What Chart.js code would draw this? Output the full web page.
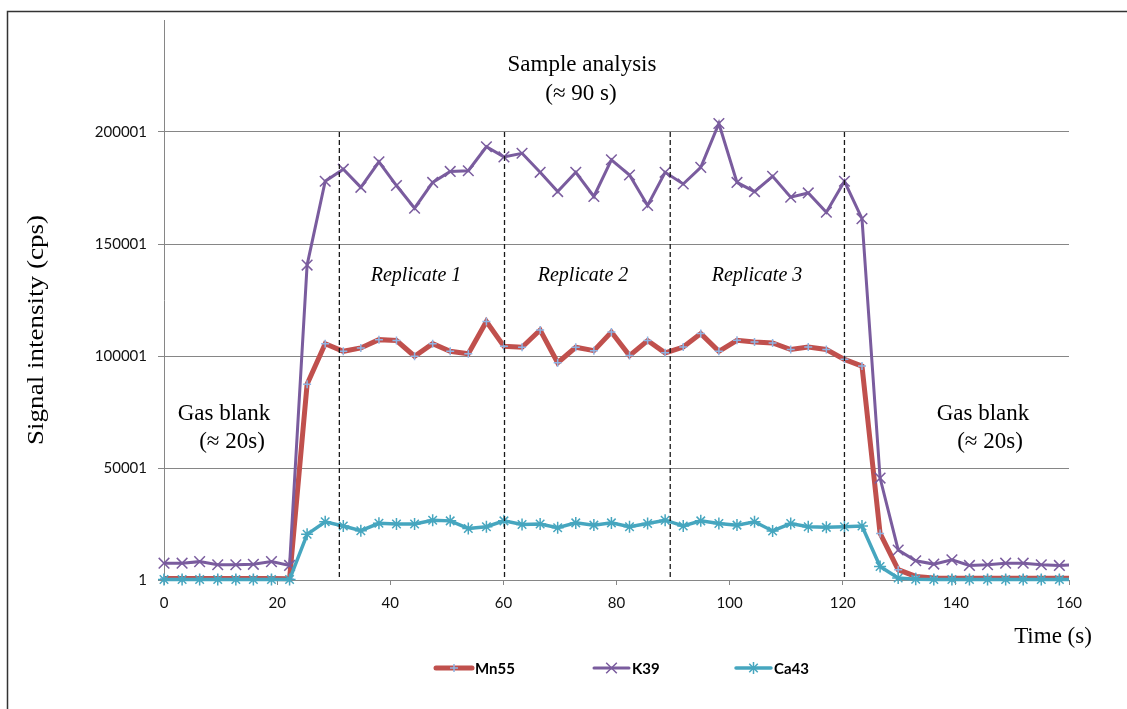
<!DOCTYPE html>
<html>
<head>
<meta charset="utf-8">
<script src="https://cdn.jsdelivr.net/npm/chart.js@4.4.1/dist/chart.umd.min.js"></script>
<style>
    html, body { margin: 0; padding: 0; background: #fff; }
    #wrap { width: 1127px; height: 709px; }
</style>
</head>
<body>
<div id="wrap"><canvas id="signal" width="1127" height="709"></canvas></div>
<script>
// ---------------- DATA ----------------
const times = [0, 3.2, 6.3, 9.5, 12.7, 15.8, 19.0, 22.2, 25.3, 28.5, 31.7, 34.8, 38.0, 41.1, 44.3, 47.5,
    50.6, 53.8, 57.0, 60.1, 63.3, 66.5, 69.6, 72.8, 76.0, 79.1, 82.3, 85.5, 88.6, 91.8, 94.9, 98.1,
    101.3, 104.4, 107.6, 110.8, 113.9, 117.1, 120.3, 123.4, 126.6, 129.8, 132.9, 136.1, 139.3, 142.4,
    145.6, 148.8, 151.9, 155.1, 158.3, 161.4];

const mn55 = [700, 700, 700, 700, 700, 700, 700, 600,
    87400, 105500, 102100, 103600, 107300, 106900, 99900, 105500, 102100, 101000,
    115400, 104300, 103900, 111600, 97000, 103900, 102400, 110700, 100200, 106900,
    101400, 104000, 110000, 102100, 107000, 106300, 105800, 102900, 104000, 102900,
    98500, 95500,
    20800, 4600, 1600, 900, 800, 800, 800, 800, 800, 800, 800, 800];

const k39 = [7500, 7500, 8200, 6800, 6800, 7000, 8200, 6500,
    140600, 178000, 183400, 175300, 186700, 176100, 166000, 177500, 182400, 182700,
    193400, 188900, 190500, 182000, 173400, 182000, 171200, 187600, 180800, 167200,
    182000, 176800, 184200, 203800, 177500, 173400, 180200, 170900, 172800, 164200,
    178000, 161300,
    45500, 13400, 8600, 7100, 9000, 6500, 6800, 7500, 7500, 6800, 6500, 6800];

const ca43 = [200, 200, 200, 200, 200, 200, 200, 200,
    20400, 26000, 24100, 22000, 25300, 25000, 25000, 26700, 26400, 23000,
    23800, 26400, 24800, 25000, 23300, 25500, 24500, 25500, 23800, 25200,
    26700, 24100, 26400, 25200, 24500, 26000, 21900, 25200, 23800, 23500,
    23800, 24100,
    6000, 900, 300, 200, 200, 200, 200, 200, 200, 200, 200, 200];

// replicate boundaries (s), drawn as dashed verticals from 1 to 200001 cps
const replicateBounds = [31.0, 60.2, 89.5, 120.3];

const xTicks = [0, 20, 40, 60, 80, 100, 120, 140, 160];
const yTicks = [1, 50001, 100001, 150001, 200001];

// ---------------- STYLES ----------------
const GRID = "#868686";
const SERIF = '"Liberation Serif", "Times New Roman", serif';
const SANS = 'Lato, "Liberation Sans", sans-serif';

const series = [
    { label: "Mn55", data: mn55, color: "#c0504d", width: 5, marker: "cross", radius: 4, markerColor: "#8fb4e3", order: 3 },
    { label: "K39", data: k39, color: "#7a5c9e", width: 3, marker: "crossRot", radius: 7.5, markerColor: "#7a5c9e", order: 2 },
    { label: "Ca43", data: ca43, color: "#46a6bf", width: 3.5, marker: "star", radius: 6, markerColor: "#46a6bf", order: 1 }
];

const toPoints = (xs, ys) => xs.map((x, i) => ({ x: x, y: ys[i] }));

const datasets = series.map(s => ({
    label: s.label,
    data: toPoints(times, s.data),
    borderColor: s.color,
    borderWidth: s.width,
    pointStyle: s.marker,
    pointRadius: s.radius,
    pointBorderColor: s.markerColor,
    pointBackgroundColor: s.markerColor,
    pointBorderWidth: 1.5,
    tension: 0,
    order: s.order,
    clip: { left: 10, top: 10, right: 0, bottom: 10 }
}));

replicateBounds.forEach(t => {
    datasets.push({
        label: "",
        data: [{ x: t, y: yTicks[yTicks.length - 1] }, { x: t, y: yTicks[0] }],
        borderColor: "#1a1a1a",
        borderWidth: 1.3,
        borderDash: [5, 3],
        pointRadius: 0,
        order: 0
    });
});

// ---------------- TEXTS ----------------
const labels = [
    { text: "Sample analysis", x: 582, y: 71, font: "23px " + SERIF },
    { text: "(\u2248 90 s)", x: 581, y: 100, font: "23px " + SERIF },
    { text: "Replicate 1", x: 416, y: 281, font: "italic 20px " + SERIF },
    { text: "Replicate 2", x: 583, y: 281, font: "italic 20px " + SERIF },
    { text: "Replicate 3", x: 757, y: 281, font: "italic 20px " + SERIF },
    { text: "Gas blank", x: 224, y: 420, font: "23px " + SERIF },
    { text: "(\u2248 20s)", x: 232, y: 448, font: "23px " + SERIF },
    { text: "Gas blank", x: 983, y: 420, font: "23px " + SERIF },
    { text: "(\u2248 20s)", x: 990, y: 448, font: "23px " + SERIF },
    { text: "Time (s)", x: 1053, y: 643, font: "23px " + SERIF }
];

const legendItems = [
    { x0: 436, x1: 472, tx: 475 },
    { x0: 594, x1: 629, tx: 632 },
    { x0: 736, x1: 771, tx: 774 }
];

const decorPlugin = {
    id: "decor",
    beforeDraw(chart) {
        const ctx = chart.ctx;
        ctx.save();
        ctx.fillStyle = "#fff";
        ctx.fillRect(0, 0, chart.width, chart.height);
        ctx.strokeStyle = "#333";
        ctx.lineWidth = 1.5;
        ctx.strokeRect(7.5, 11.5, chart.width + 20, chart.height + 20);
        ctx.restore();
    },
    afterDraw(chart) {
        const ctx = chart.ctx;
        ctx.save();
        ctx.fillStyle = "#000";
        ctx.textAlign = "center";
        ctx.textBaseline = "alphabetic";
        labels.forEach(l => {
            ctx.font = l.font;
            ctx.fillText(l.text, l.x, l.y);
        });

        // y axis title, rotated
        ctx.save();
        ctx.translate(37, 330);
        ctx.rotate(-Math.PI / 2);
        ctx.font = "23px " + SERIF;
        ctx.textBaseline = "middle";
        const title = "Signal intensity (cps)";
        const w = ctx.measureText(title).width;
        ctx.scale(230 / w, 1);
        ctx.fillText(title, 0, 0);
        ctx.restore();

        // legend
        const ly = 668;
        series.forEach((s, i) => {
            const it = legendItems[i];
            ctx.strokeStyle = s.color;
            ctx.lineWidth = s.width;
            ctx.lineCap = "round";
            ctx.beginPath();
            ctx.moveTo(it.x0, ly);
            ctx.lineTo(it.x1, ly);
            ctx.stroke();
            ctx.strokeStyle = s.markerColor;
            ctx.fillStyle = s.markerColor;
            ctx.lineWidth = 1.5;
            ctx.lineCap = "butt";
            Chart.helpers.drawPoint(ctx, { pointStyle: s.marker, radius: s.radius, rotation: 0, borderWidth: 1.5 }, (it.x0 + it.x1) / 2, ly);
            ctx.fillStyle = "#000";
            ctx.font = "bold 15px " + SANS;
            ctx.textAlign = "left";
            ctx.fillText(s.label, it.tx, 674);
        });
        ctx.restore();
    }
};

// ---------------- CHART ----------------
new Chart(document.getElementById("signal"), {
    type: "line",
    data: { datasets: datasets },
    plugins: [decorPlugin],
    options: {
        responsive: false,
        animation: false,
        events: [],
        layout: { padding: { left: 0, top: 17, right: 58, bottom: 0 } },
        plugins: { legend: { display: false }, tooltip: { enabled: false } },
        scales: {
            x: {
                type: "linear",
                min: 0,
                max: 160,
                afterBuildTicks: axis => { axis.ticks = xTicks.map(v => ({ value: v })); },
                afterFit: scale => { scale.height = 129; },
                grid: { drawOnChartArea: false, color: GRID, tickLength: 5 },
                border: { color: GRID, width: 1 },
                ticks: {
                    padding: 9,
                    color: "#111",
                    font: { family: SANS, size: 15 },
                    maxRotation: 0,
                    callback: v => String(v)
                }
            },
            y: {
                type: "linear",
                min: 1,
                max: 250001,
                afterBuildTicks: axis => { axis.ticks = yTicks.map(v => ({ value: v })); },
                afterFit: scale => { scale.width = 164; },
                grid: { color: GRID, tickLength: 6 },
                border: { color: GRID, width: 1 },
                ticks: {
                    padding: 11,
                    color: "#111",
                    font: { family: SANS, size: 15 },
                    callback: v => String(v)
                }
            }
        }
    }
});
</script>
</body>
</html>
